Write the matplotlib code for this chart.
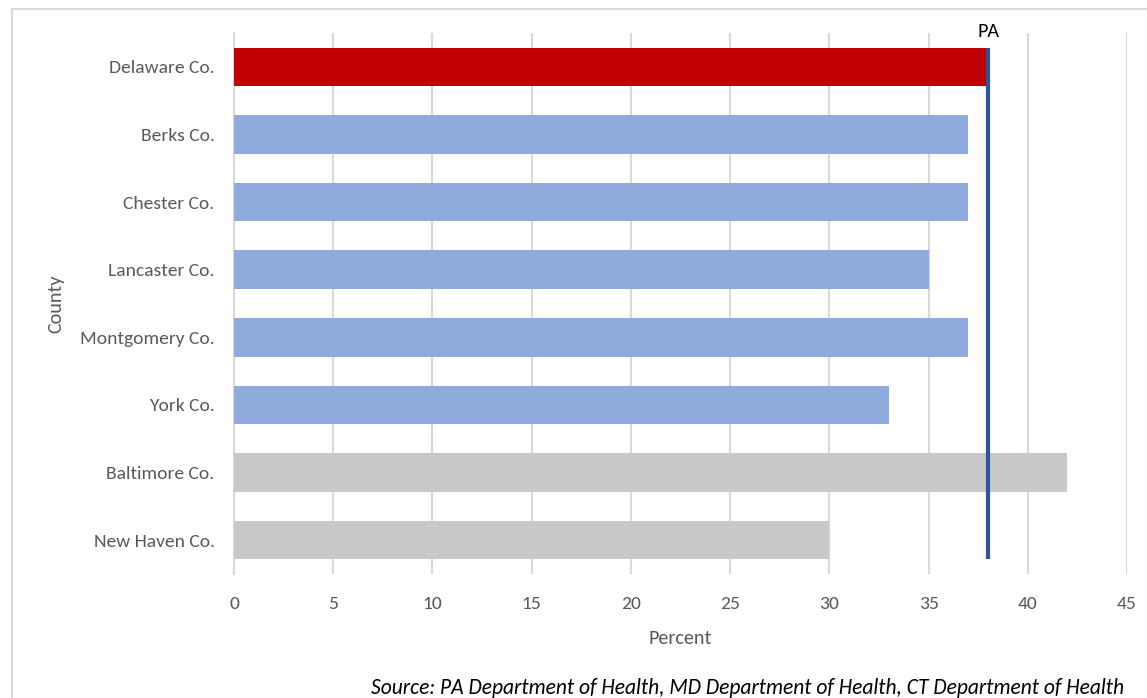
import matplotlib
matplotlib.use("Agg")
import matplotlib.pyplot as plt
from matplotlib.patches import Rectangle

plt.rcParams['font.family'] = ['Carlito', 'Lato', 'DejaVu Sans']

counties = ["Delaware Co.", "Berks Co.", "Chester Co.", "Lancaster Co.",
            "Montgomery Co.", "York Co.", "Baltimore Co.", "New Haven Co."]
values = [38, 37, 37, 35, 37, 33, 42, 30]
colors = ["#C00000", "#8FAADC", "#8FAADC", "#8FAADC", "#8FAADC", "#8FAADC",
          "#C9C9C9", "#C9C9C9"]
pa_value = 38
xticks = [0, 5, 10, 15, 20, 25, 30, 35, 40, 45]

W, H = 1147, 698
fig = plt.figure(figsize=(W / 100, H / 100), dpi=100)
fig.patch.set_facecolor("white")

# outer chart border
fig.add_artist(Rectangle((12 / W, -0.1), 1.2, 1.1 - 9 / H, transform=fig.transFigure,
                         fill=False, edgecolor="#D9D9D9", linewidth=1.5))

left, right, top, bottom = 234, 1127, 33, 574
ax = fig.add_axes([left / W, 1 - bottom / H, (right - left) / W, (bottom - top) / H])

bar_h = 0.57
ypos = list(range(len(counties)))
ax.barh(ypos, values, height=bar_h, color=colors, zorder=3)
ax.set_ylim(len(counties) - 0.5, -0.5)
ax.set_xlim(0, 45)
ax.set_xticks(xticks)
ax.set_yticks(ypos)
ax.set_yticklabels(counties)

ax.plot([pa_value, pa_value], [-bar_h / 2, len(counties) - 1 + bar_h / 2],
        color="#2F5597", linewidth=3, zorder=4, solid_capstyle="butt")
ax.text(pa_value, -0.52, "PA", ha="center", va="center", fontsize=14.5,
        color="black")

ax.grid(axis="x", color="#D9D9D9", linewidth=1.5, zorder=0)
for s in ["top", "right", "bottom"]:
    ax.spines[s].set_visible(False)
ax.spines["left"].set_color("#D9D9D9")
ax.spines["left"].set_linewidth(1.5)
ax.tick_params(axis="both", length=0, labelcolor="#595959", labelsize=14)
ax.tick_params(axis="y", pad=14)
ax.tick_params(axis="x", pad=16)

ax.set_xlabel("Percent", fontsize=14.5, color="#595959", labelpad=13)
ax.set_ylabel("County", fontsize=14.5, color="#595959", labelpad=11)

fig.text(371 / W, 1 - 688 / H,
         "Source: PA Department of Health, MD Department of Health, CT Department of Health",
         ha="left", va="center", fontsize=15.5, style="italic", color="black")

fig.savefig("out.png", dpi=100, facecolor="white")
